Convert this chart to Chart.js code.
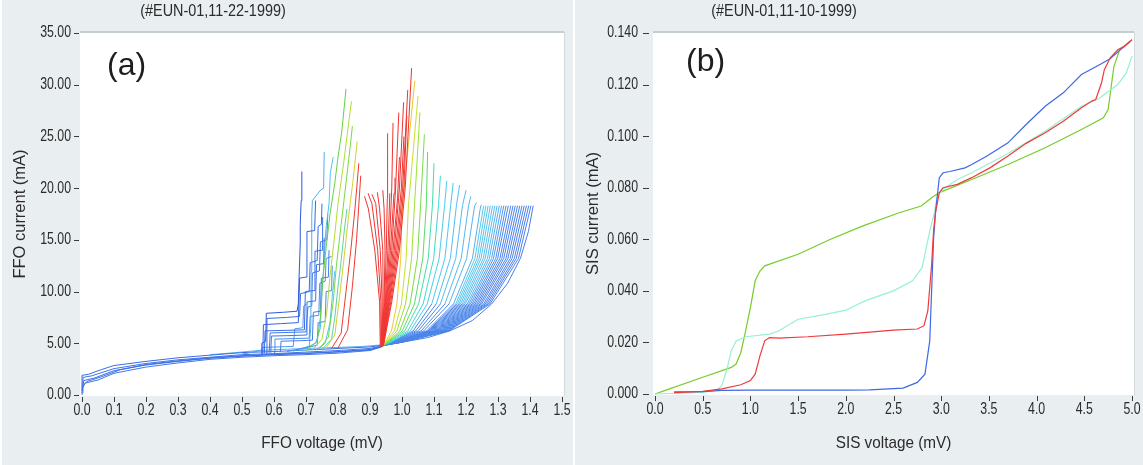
<!DOCTYPE html>
<html>
<head>
<meta charset="utf-8">
<script src="https://cdn.jsdelivr.net/npm/chart.js@4.4.1/dist/chart.umd.min.js"></script>
<style>
  html, body { margin: 0; padding: 0; background: #ffffff; }
  #wrap { position: relative; width: 1143px; height: 465px; background: #ffffff; overflow: hidden; }
  .panel { position: absolute; top: 0; height: 465px; background: #e9eef0; }
  #pa { left: 2px; width: 571px; }
  #pb { left: 575px; width: 568px; }
  canvas { display: block; }
</style>
</head>
<body>
<div id="wrap">
  <div class="panel" id="pa"><canvas id="ca" width="571" height="465"></canvas></div>
  <div class="panel" id="pb"><canvas id="cb" width="568" height="465"></canvas></div>
</div>
<script>
// ---------- Panel (a): FFO current-voltage curves, flat [V (mV), I (mA), ...] lists ----------
const ffoVoltageTicks = [0, 0.1, 0.2, 0.3, 0.4, 0.5, 0.6, 0.7, 0.8, 0.9, 1.0, 1.1, 1.2, 1.3, 1.4, 1.5];
const ffoCurrentTicks = [0, 5, 10, 15, 20, 25, 30, 35];

// common low-voltage branch
const lowBranch = [
  [0,0, 0,1.9, 0.02,2.0, 0.06,2.45, 0.1,2.85, 0.2,3.25, 0.3,3.6, 0.4,3.85, 0.5,4.1, 0.6,4.2, 0.7,4.35, 0.8,4.5, 0.9,4.65, 0.937,4.8],
  [0,0.2, 0.003,1.7, 0.03,1.85, 0.1,2.55, 0.2,3.05, 0.3,3.4, 0.4,3.65, 0.5,3.9, 0.6,4.0, 0.7,4.15, 0.8,4.3, 0.9,4.5, 0.937,4.75],
  [0,0.4, 0.006,1.4, 0.04,1.65, 0.1,2.35, 0.2,2.9, 0.3,3.25, 0.4,3.55, 0.5,3.75, 0.6,3.9, 0.7,4.0, 0.8,4.2, 0.9,4.4, 0.937,4.7],
  [0,0.6, 0.01,1.15, 0.05,1.45, 0.1,2.1, 0.2,2.7, 0.3,3.1, 0.4,3.45, 0.5,3.65, 0.6,3.8, 0.7,3.9, 0.8,4.05, 0.9,4.3, 0.937,4.65],
  [0,0.8, 0.015,1.3, 0.06,1.75, 0.12,2.45, 0.2,2.95, 0.3,3.3, 0.4,3.6, 0.5,3.8, 0.6,3.95, 0.7,4.05, 0.8,4.15, 0.9,4.35, 0.937,4.7],
  [0.4,3.9, 0.48,4.1, 0.55,4.3, 0.62,4.4, 0.7,4.5, 0.8,4.6, 0.88,4.7, 0.937,4.85]
];
// Fiske-step staircases
const stepCurves = [
  [0.56,4.0, 0.562,5.0, 0.574,5.2, 0.576,7.9, 0.63,8.0, 0.672,8.1, 0.676,8.8, 0.679,12.0, 0.682,14.6, 0.682,16.5, 0.685,18.8, 0.687,21.6],
  [0.565,4.0, 0.567,6.8, 0.62,6.9, 0.676,7.0, 0.68,11.3, 0.70,11.4, 0.703,15.8, 0.727,15.9, 0.73,18.8],
  [0.57,4.05, 0.572,6.2, 0.64,6.25, 0.695,6.3, 0.698,10.0, 0.725,10.1, 0.728,13.9, 0.75,14.0, 0.752,17.2],
  [0.59,4.1, 0.592,5.7, 0.66,5.75, 0.70,5.8, 0.703,9.0, 0.73,9.1, 0.733,12.6, 0.755,12.7, 0.757,15.2],
  [0.62,4.15, 0.622,5.2, 0.68,5.25, 0.72,5.3, 0.723,8.0, 0.745,8.1, 0.748,11.3, 0.77,11.4, 0.772,14.0],
  [0.64,4.2, 0.70,4.6, 0.735,4.8, 0.738,7.0, 0.76,7.1, 0.763,10.0, 0.78,10.1, 0.782,12.5],
  [0.66,4.25, 0.71,4.7, 0.715,6.5, 0.716,12.0, 0.718,17.4, 0.72,18.8, 0.745,19.8, 0.755,20.0, 0.757,23.5],
  [0.68,4.3, 0.73,5.0, 0.745,6.5, 0.75,10.0, 0.758,13.5, 0.762,16.0, 0.772,18.5, 0.776,21.5, 0.785,23.0],
  [0.575,4.05, 0.578,7.4, 0.64,7.5, 0.68,7.6, 0.683,9.8, 0.71,10.0, 0.713,12.8, 0.735,13.0, 0.738,16.3, 0.748,16.5, 0.75,18.5],
  [0.585,4.1, 0.588,6.0, 0.70,6.1, 0.706,8.5, 0.718,8.6, 0.72,11.8, 0.742,12.0, 0.745,14.8, 0.765,15.0, 0.768,17.5],
  [0.60,4.1, 0.603,5.4, 0.71,5.5, 0.713,7.6, 0.74,7.7, 0.743,10.8, 0.76,11.0, 0.763,13.2, 0.78,13.4],
  [0.50,3.95, 0.56,4.3, 0.565,4.6, 0.66,4.7, 0.665,6.4, 0.69,6.5, 0.693,8.6, 0.70,8.8]
];
// steep branches left of the red fan
const steepCurves = [
  [0.70,4.3, 0.735,5.2, 0.745,7.5, 0.752,11.0, 0.762,14.0, 0.775,17.5, 0.79,20.5, 0.80,23.0, 0.812,25.5, 0.825,29.6],
  [0.72,4.35, 0.75,5.4, 0.765,8.0, 0.775,11.5, 0.788,15.0, 0.80,18.5, 0.818,22.5, 0.832,26.0, 0.842,28.4],
  [0.74,4.4, 0.77,5.6, 0.785,9.0, 0.795,12.5, 0.81,16.5, 0.825,20.5, 0.838,24.0, 0.845,26.0],
  [0.76,4.45, 0.79,5.8, 0.805,9.5, 0.818,13.0, 0.832,17.0, 0.846,20.5, 0.86,24.5],
  [0.78,4.5, 0.81,6.0, 0.825,10.0, 0.84,14.0, 0.853,18.0, 0.865,22.4],
  [0.80,4.55, 0.83,6.3, 0.845,10.5, 0.858,15.0, 0.871,21.2],
  [0.75,4.4, 0.78,5.4, 0.79,7.5, 0.80,10.5, 0.81,13.0, 0.82,16.0, 0.828,18.0],
  [0.73,4.35, 0.76,5.0, 0.775,7.0, 0.782,9.5, 0.79,12.0]
];
// red fan around 0.94 mV
const redFan = [
  [0.932,4.8, 0.93,9, 0.915,14, 0.895,18, 0.883,19.2],
  [0.934,4.7, 0.934,9, 0.924,14, 0.906,18.5, 0.894,19.5],
  [0.935,4.7, 0.938,9, 0.932,14, 0.918,18.5, 0.906,19.4],
  [0.936,4.7, 0.941,9, 0.94,14, 0.93,18, 0.923,19.6],
  [0.937,4.7, 0.944,9, 0.947,14, 0.944,18, 0.94,19.8],
  [0.937,4.7, 0.946,9, 0.951,14, 0.954,19, 0.955,25.3],
  [0.938,4.7, 0.948,9, 0.956,14, 0.962,19.5],
  [0.938,4.7, 0.95,9, 0.96,14, 0.968,20, 0.972,26.3],
  [0.939,4.7, 0.952,9, 0.964,14, 0.975,19.5, 0.978,21],
  [0.939,4.7, 0.954,9, 0.968,14, 0.98,20, 0.99,27.3],
  [0.94,4.7, 0.956,9, 0.972,14, 0.986,19, 0.992,23],
  [0.94,4.7, 0.958,9, 0.976,14, 0.992,20, 1.005,28.3],
  [0.941,4.8, 0.96,9, 0.98,14, 0.998,20, 1.006,25],
  [0.941,4.8, 0.962,9, 0.984,14, 1.002,20, 1.018,29.5],
  [0.942,4.8, 0.965,9, 0.988,14, 1.006,20, 1.015,27],
  [0.942,4.8, 0.968,9, 0.992,14, 1.01,20, 1.03,31.6]
];
// fan right of the red one, tops falling from 30 mA to 18.4 mA
const outerFan = [
  [0.94,4.8, 0.948,5.1, 0.967,6.2, 0.984,8.8, 0.996,13.2, 1.001,18.3, 1.04,30.4],
  [0.94,4.8, 0.950,5.1, 0.976,6.2, 0.998,8.8, 1.013,13.2, 1.020,18.3, 1.05,28.9],
  [0.94,4.8, 0.953,5.1, 0.984,6.2, 1.011,8.8, 1.030,13.2, 1.039,18.3, 1.056,27.3],
  [0.94,4.8, 0.955,5.1, 0.993,6.2, 1.025,8.8, 1.048,13.2, 1.058,18.3, 1.07,25.2],
  [0.94,4.8, 0.957,5.1, 1.001,6.2, 1.039,8.8, 1.065,13.2, 1.076,18.3, 1.08,23.5],
  [0.94,4.8, 0.960,5.1, 1.009,6.2, 1.052,8.8, 1.082,13.2, 1.095,18.3, 1.10,22.4],
  [0.94,4.8, 0.962,5.1, 1.018,6.2, 1.066,8.8, 1.099,13.2, 1.114,18.3, 1.12,21.2],
  [0.94,4.8, 0.965,5.1, 1.026,6.2, 1.079,8.8, 1.116,13.2, 1.133,18.3, 1.14,20.7],
  [0.94,4.8, 0.967,5.1, 1.035,6.2, 1.093,8.8, 1.134,13.2, 1.152,18.3, 1.16,20.5],
  [0.94,4.8, 0.969,5.1, 1.043,6.2, 1.107,8.8, 1.151,13.2, 1.170,18.3, 1.18,20.3],
  [0.94,4.8, 0.972,5.1, 1.051,6.2, 1.120,8.8, 1.168,13.2, 1.189,18.3, 1.20,19.8],
  [0.94,4.8, 0.974,5.1, 1.060,6.2, 1.134,8.8, 1.185,13.2, 1.208,18.3, 1.215,19.2],
  [0.94,4.8, 0.977,5.1, 1.068,6.2, 1.147,8.8, 1.202,13.2, 1.227,18.3, 1.233,18.6],
  [0.94,4.8, 0.979,5.1, 1.077,6.2, 1.161,8.8, 1.220,13.2, 1.246,18.3, 1.25,18.4]
];
// curves ending on the 18.3 mA plateau
const plateauFan = [
  [0.94,4.8, 0.980,5.1, 1.081,6.2, 1.168,8.8, 1.228,13.2, 1.255,18.3],
  [0.94,4.8, 0.981,5.1, 1.084,6.2, 1.173,8.8, 1.235,13.2, 1.262,18.3],
  [0.94,4.8, 0.982,5.1, 1.087,6.2, 1.178,8.8, 1.241,13.2, 1.269,18.3],
  [0.94,4.8, 0.983,5.1, 1.090,6.2, 1.183,8.8, 1.247,13.2, 1.276,18.3],
  [0.94,4.8, 0.984,5.1, 1.093,6.2, 1.188,8.8, 1.254,13.2, 1.283,18.3],
  [0.94,4.8, 0.985,5.1, 1.096,6.2, 1.193,8.8, 1.260,13.2, 1.290,18.3],
  [0.94,4.8, 0.986,5.1, 1.100,6.2, 1.198,8.8, 1.267,13.2, 1.297,18.3],
  [0.94,4.8, 0.987,5.1, 1.103,6.2, 1.204,8.8, 1.273,13.2, 1.304,18.3],
  [0.94,4.8, 0.987,5.1, 1.106,6.2, 1.209,8.8, 1.280,13.2, 1.311,18.3],
  [0.94,4.8, 0.988,5.1, 1.109,6.2, 1.214,8.8, 1.286,13.2, 1.318,18.3],
  [0.94,4.8, 0.989,5.1, 1.112,6.2, 1.219,8.8, 1.293,13.2, 1.325,18.3],
  [0.94,4.8, 0.990,5.1, 1.115,6.2, 1.224,8.8, 1.299,13.2, 1.332,18.3],
  [0.94,4.8, 0.991,5.1, 1.119,6.2, 1.229,8.8, 1.306,13.2, 1.340,18.3],
  [0.94,4.8, 0.992,5.1, 1.122,6.2, 1.234,8.8, 1.312,13.2, 1.347,18.3],
  [0.94,4.8, 0.993,5.1, 1.125,6.2, 1.239,8.8, 1.318,13.2, 1.354,18.3],
  [0.94,4.8, 0.994,5.1, 1.128,6.2, 1.244,8.8, 1.325,13.2, 1.361,18.3],
  [0.94,4.8, 0.995,5.1, 1.131,6.2, 1.249,8.8, 1.331,13.2, 1.368,18.3],
  [0.94,4.8, 0.996,5.1, 1.134,6.2, 1.255,8.8, 1.338,13.2, 1.375,18.3],
  [0.94,4.8, 0.996,5.1, 1.137,6.2, 1.260,8.8, 1.344,13.2, 1.382,18.3],
  [0.94,4.8, 0.997,5.1, 1.141,6.2, 1.265,8.8, 1.351,13.2, 1.389,18.3],
  [0.94,4.8, 0.998,5.1, 1.144,6.2, 1.270,8.8, 1.357,13.2, 1.396,18.3],
  [0.94,4.8, 0.999,5.1, 1.147,6.2, 1.275,8.8, 1.364,13.2, 1.403,18.3]
];
// outermost curve (lower-right envelope)
const envelopeCurve = [0.937,4.75, 1.00,5.1, 1.08,5.55, 1.15,6.2, 1.22,7.2, 1.28,8.8, 1.33,10.8, 1.37,13.2, 1.395,15.8, 1.41,18.3];

// line colours
const lowBranchColors = ['#3a6de6', '#3f73e8', '#3a6de6', '#4379ea', '#3f70e6', '#58b4f0'];
const stepColors = ['#2c58dc', '#3566e4', '#3a6ee8', '#3f74ea', '#457dec', '#4a88ee', '#4fb0f0', '#48c6ea',
                    '#3a6ee8', '#4178ea', '#4a90ee', '#5298ee'];
const steepColors = ['#66d04a', '#b4dc36', '#7cd840', '#d4d030', '#ee3a30', '#ee3a30', '#5cd4a0', '#48c6ea'];
const redColor = '#f03430';
const outerColors = ['#f2c828', '#c8e030', '#9ee038', '#78dc48', '#58dc68', '#44dca8', '#40d8d0', '#44d0e6',
                     '#4cc8ee', '#52c0f0', '#56bcf0', '#58b8f0', '#58b4f0', '#56b0f0'];
const plateauColors = ['#56c8ee', '#56c8ee', '#56c4ee', '#56c4ee', '#58c0f0', '#58bcf0', '#58b8f0', '#56b0f0', '#52a4ee', '#4e98ec',
                       '#4c8cea', '#4c86ea', '#4c84ea', '#4c82ea', '#4c82ea', '#4c80ea', '#4c80ea', '#4c80ea', '#4c80ea', '#4c80ea', '#4c80ea', '#4c80ea'];
const lowerPartColor = '#4a86ea';
const envelopeColor = '#4a7eea';

// ---------- Panel (b): SIS current-voltage curves, flat [V (mV), I (mA), ...] lists ----------
const sisVoltageTicks = [0, 0.5, 1.0, 1.5, 2.0, 2.5, 3.0, 3.5, 4.0, 4.5, 5.0];
const sisCurrentTicks = [0, 0.02, 0.04, 0.06, 0.08, 0.10, 0.12, 0.14];

const sisBlue = [0.2,0.0008, 0.5,0.0009, 0.7,0.0014, 1.0,0.0015, 1.5,0.0015, 2.0,0.0015, 2.25,0.0016, 2.6,0.0023, 2.75,0.0045,
  2.83,0.0077, 2.88,0.0206, 2.92,0.060, 2.94,0.0703, 2.98,0.0839, 3.02,0.0858, 3.09,0.0863, 3.25,0.0877, 3.32,0.089, 3.48,0.0923,
  3.70,0.0974, 3.89,0.1045, 4.09,0.1116, 4.28,0.1168, 4.47,0.1239, 4.66,0.1277, 4.77,0.130, 4.92,0.1348, 4.98,0.1368];
const sisRed = [0.2,0.0005, 0.5,0.001, 0.7,0.002, 0.9,0.0036, 1.0,0.0052, 1.05,0.0077, 1.1,0.0148, 1.15,0.0206, 1.2,0.0219, 1.3,0.0217,
  1.6,0.0222, 2.0,0.0232, 2.5,0.0248, 2.75,0.0252, 2.82,0.0265, 2.86,0.0323, 2.9,0.0503, 2.92,0.0632, 2.94,0.0703, 2.98,0.078,
  3.02,0.080, 3.17,0.0813, 3.32,0.0839, 3.51,0.0877, 3.70,0.0923, 3.89,0.0972, 4.09,0.1013, 4.28,0.1058, 4.47,0.111, 4.58,0.1136,
  4.62,0.1142, 4.68,0.1206, 4.71,0.1258, 4.77,0.1303, 4.85,0.1335, 4.92,0.1348, 5.0,0.1374];
const sisCyan = [0,0, 0.5,0.0006, 0.65,0.0015, 0.7,0.0032, 0.75,0.009, 0.8,0.0168, 0.85,0.0206, 0.95,0.0222, 1.2,0.0232, 1.3,0.0245,
  1.5,0.029, 1.8,0.031, 2.0,0.0325, 2.2,0.0361, 2.5,0.040, 2.7,0.0439, 2.8,0.049, 2.85,0.058, 2.88,0.0632, 2.92,0.069, 2.96,0.0768,
  3.02,0.0794, 3.17,0.0832, 3.32,0.0858, 3.70,0.0933, 4.09,0.1019, 4.47,0.1116, 4.66,0.1148, 4.85,0.120, 4.94,0.1245, 5.0,0.131];
const sisGreen = [0,0, 0.1,0.0013, 0.5,0.0065, 0.8,0.0103, 0.85,0.0116, 0.9,0.0161, 0.95,0.0245, 1.0,0.0335, 1.05,0.0439, 1.1,0.0477,
  1.15,0.0497, 1.5,0.0542, 1.84,0.060, 2.18,0.0652, 2.56,0.0703, 2.79,0.0729, 2.9,0.0761, 2.98,0.0781, 3.32,0.0832, 3.70,0.089,
  4.09,0.0955, 4.47,0.1026, 4.70,0.1071, 4.75,0.1103, 4.81,0.127, 4.87,0.1335, 5.0,0.1374];

// ---------- helpers ----------
const SANS = '"Liberation Sans", Arial, Helvetica, sans-serif';
const TEXT_COLOR = '#2b2b2b';

function toPoints(flat) {
  const pts = [];
  for (let i = 0; i < flat.length; i += 2) pts.push({ x: flat[i], y: flat[i + 1] });
  return pts;
}
function curve(flat, color, extra) {
  return Object.assign({
    data: toPoints(flat), borderColor: color, borderWidth: 1, pointRadius: 0,
    showLine: true, fill: false, tension: 0, clip: 4
  }, extra || {});
}
// lower part of a curve (below 8.8 mA) in the darker blue
const lowerBlue = { borderColor: s => (s.p0.parsed.y < 8.7 ? lowerPartColor : undefined) };

// condensed text: Liberation Sans squeezed horizontally
function narrowText(ctx, text, x, y, size, sx, align, rot) {
  ctx.save();
  ctx.translate(x, y);
  if (rot) ctx.rotate(rot);
  ctx.scale(sx, 1);
  ctx.font = size + 'px ' + SANS;
  ctx.textAlign = align;
  ctx.textBaseline = 'middle';
  ctx.fillStyle = TEXT_COLOR;
  ctx.fillText(text, 0, 0);
  ctx.restore();
}

// white plot area, framing, ticks, tick labels, axis titles and captions
const panelDecor = {
  id: 'panelDecor',
  beforeDraw(chart) {
    const { ctx, chartArea: a } = chart;
    ctx.save();
    ctx.fillStyle = '#ffffff';
    ctx.fillRect(a.left - 2, a.top - 1, a.right - a.left + 4, a.bottom - a.top + 2);
    ctx.strokeStyle = '#c6ced2';
    ctx.lineWidth = 2;
    ctx.beginPath();
    ctx.moveTo(a.left - 2, a.top - 1);
    ctx.lineTo(a.right + 2, a.top - 1);
    ctx.stroke();
    ctx.lineWidth = 1;
    ctx.strokeStyle = '#d3dadd';
    ctx.beginPath();
    ctx.moveTo(a.right + 2.5, a.top - 1);
    ctx.lineTo(a.right + 2.5, a.bottom + 1);
    ctx.stroke();
    ctx.restore();
  },
  afterDraw(chart, args, o) {
    const { ctx, chartArea: a, scales } = chart;
    ctx.save();
    ctx.strokeStyle = '#3c3c3c';
    ctx.lineWidth = 1;
    scales.y.ticks.forEach(t => {
      const py = scales.y.getPixelForValue(t.value);
      const y = Math.round(py) + 0.5;
      ctx.beginPath(); ctx.moveTo(a.left - o.dashFar, y); ctx.lineTo(a.left - o.dashNear, y); ctx.stroke();
      narrowText(ctx, t.value.toFixed(o.yDigits), a.left - o.labelGap, py, 16, 0.77, 'right');
    });
    scales.x.ticks.forEach(t => {
      const px = scales.x.getPixelForValue(t.value);
      const x = Math.round(px) + 0.5;
      ctx.beginPath(); ctx.moveTo(x, a.bottom + 2); ctx.lineTo(x, a.bottom + 7); ctx.stroke();
      narrowText(ctx, t.value.toFixed(o.xDigits), px, a.bottom + 16, 16, 0.77, 'center');
    });
    ctx.restore();
    narrowText(ctx, o.xTitle, (a.left + a.right) / 2, 443, 17, 0.9, 'center');
    narrowText(ctx, o.yTitle, o.yTitleX, (a.top + a.bottom) / 2, 17, 0.97, 'center', -Math.PI / 2);
    narrowText(ctx, o.title, o.titleX, 12, 16, 0.9, 'center');
    ctx.save();
    ctx.font = '32px ' + SANS;
    ctx.fillStyle = '#1e1e1e';
    ctx.textAlign = 'left';
    ctx.textBaseline = 'middle';
    ctx.fillText(o.tag, o.tagX, o.tagY);
    ctx.restore();
  }
};

function makeOptions(cfg) {
  return {
    responsive: false,
    animation: false,
    events: [],
    layout: { padding: { left: 0, right: cfg.padRight, top: 33, bottom: 0 } },
    plugins: {
      legend: { display: false },
      tooltip: { enabled: false },
      panelDecor: cfg.decor
    },
    scales: {
      x: {
        type: 'linear', min: cfg.xMin, max: cfg.xMax,
        grid: { display: false }, border: { display: false },
        afterBuildTicks: s => { s.ticks = cfg.xTicks.map(v => ({ value: v })); },
        afterFit: s => { s.height = cfg.xHeight; },
        ticks: { display: false },
        title: { display: false }
      },
      y: {
        type: 'linear', min: cfg.yMin, max: cfg.yMax,
        grid: { display: false }, border: { display: false },
        afterBuildTicks: s => { s.ticks = cfg.yTicks.map(v => ({ value: v })); },
        afterFit: s => { s.width = cfg.yWidth; },
        ticks: { display: false },
        title: { display: false }
      }
    }
  };
}

// ---------- panel (a) datasets (first listed is drawn on top) ----------
const setsA = [];
redFan.forEach(c => setsA.push(curve(c, redColor)));
[4, 5].forEach(i => setsA.push(curve(steepCurves[i], steepColors[i])));
outerFan.forEach((c, i) => setsA.push(curve(c, outerColors[i], i >= 8 ? { segment: lowerBlue } : {})));
steepCurves.forEach((c, i) => { if (i !== 4 && i !== 5) setsA.push(curve(c, steepColors[i])); });
stepCurves.forEach((c, i) => setsA.push(curve(c, stepColors[i])));
setsA.push(curve(envelopeCurve, envelopeColor));
plateauFan.forEach((c, i) => setsA.push(curve(c, plateauColors[i], { segment: lowerBlue })));
lowBranch.forEach((c, i) => setsA.push(curve(c, lowBranchColors[i])));

new Chart(document.getElementById('ca'), {
  type: 'scatter',
  data: { datasets: setsA },
  plugins: [panelDecor],
  options: makeOptions({
    padRight: 11, xMin: 0, xMax: 1.5, yMin: 0, yMax: 35,
    xTicks: ffoVoltageTicks, yTicks: ffoCurrentTicks,
    xHeight: 70, yWidth: 80,
    decor: {
      title: '(#EUN-01,11-22-1999)', titleX: 211, tag: '(a)', tagX: 105, tagY: 66,
      xTitle: 'FFO voltage (mV)', yTitle: 'FFO current (mA)', yTitleX: 18,
      xDigits: 1, yDigits: 2, labelGap: 11, dashFar: 8, dashNear: 3
    }
  })
});

// ---------- panel (b) datasets ----------
const setsB = [
  curve(sisRed, '#f03a3a', { borderWidth: 1.2 }),
  curve(sisBlue, '#3f68e6', { borderWidth: 1.2 }),
  curve(sisCyan, '#98f0d2', { borderWidth: 1.2 }),
  curve(sisGreen, '#76cc2c', { borderWidth: 1.2 })
];

new Chart(document.getElementById('cb'), {
  type: 'scatter',
  data: { datasets: setsB },
  plugins: [panelDecor],
  options: makeOptions({
    padRight: 11, xMin: 0, xMax: 5, yMin: 0, yMax: 0.14,
    xTicks: sisVoltageTicks, yTicks: sisCurrentTicks,
    xHeight: 71, yWidth: 80,
    decor: {
      title: '(#EUN-01,11-10-1999)', titleX: 209, tag: '(b)', tagX: 111, tagY: 62,
      xTitle: 'SIS voltage (mV)', yTitle: 'SIS current (mA)', yTitleX: 18,
      xDigits: 1, yDigits: 3, labelGap: 17, dashFar: 12, dashNear: 6
    }
  })
});
</script>
</body>
</html>
